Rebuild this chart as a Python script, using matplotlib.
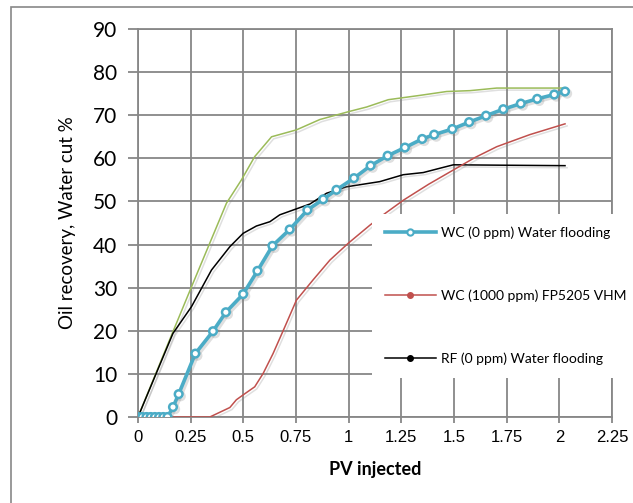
import numpy as np
import matplotlib
matplotlib.use('Agg')
import matplotlib.pyplot as plt
import matplotlib.patheffects as pe
from matplotlib.lines import Line2D
from matplotlib.patches import Rectangle

plt.rcParams['font.family'] = ['Lato', 'DejaVu Sans']

# WC (0 ppm) Water flooding - blue with markers
wc0_x = [0, 0.02, 0.04, 0.06, 0.08, 0.10, 0.12, 0.14, 0.166, 0.193, 0.272, 0.356, 0.417, 0.499,
         0.567, 0.638, 0.72, 0.804, 0.879, 0.942, 1.025, 1.104, 1.185, 1.267, 1.349,
         1.406, 1.492, 1.572, 1.652, 1.734, 1.817, 1.895, 1.976, 2.027]
wc0_y = [0, 0, 0, 0, 0, 0, 0, 0, 2.3, 5.3, 14.7, 19.9, 24.3, 28.5,
         33.9, 39.7, 43.5, 48.0, 50.5, 52.7, 55.4, 58.3, 60.6, 62.5, 64.5,
         65.5, 66.8, 68.4, 69.9, 71.4, 72.7, 73.8, 74.8, 75.5]

# WC (1000 ppm) FP5205 VHM - red
wc1000_x = [0, 0.10, 0.20, 0.341, 0.436, 0.467, 0.507, 0.554, 0.594, 0.641, 0.697, 0.752,
            0.831, 0.911, 0.998, 1.101, 1.164, 1.26, 1.38, 1.497, 1.60, 1.703, 1.86, 2.027]
wc1000_y = [0, 0, 0, 0, 2.2, 4.0, 5.4, 7.0, 10.1, 14.7, 20.9, 27.1,
            31.8, 36.4, 40.3, 44.5, 46.9, 50.3, 54.0, 57.3, 60.2, 62.7, 65.5, 68.0]

# RF (0 ppm) Water flooding - black
rf0_x = [0, 0.166, 0.254, 0.349, 0.436, 0.499, 0.562, 0.626, 0.673, 0.736, 0.816,
         0.895, 0.99, 1.148, 1.259, 1.354, 1.433, 1.497, 1.75, 2.027]
rf0_y = [0, 19.4, 25.6, 34.1, 39.5, 42.6, 44.3, 45.3, 46.9, 48.0, 49.4,
         51.9, 53.4, 54.6, 56.2, 56.7, 57.7, 58.5, 58.4, 58.3]

# RF (1000 ppm) - green, not in legend
rf1000_x = [0, 0.166, 0.254, 0.42, 0.491, 0.554, 0.634, 0.752, 0.863, 1.005, 1.085,
            1.188, 1.338, 1.465, 1.576, 1.703, 2.027]
rf1000_y = [0, 19.8, 30.2, 49.6, 55.0, 60.4, 65.0, 66.6, 69.0, 70.9, 71.9,
            73.6, 74.6, 75.5, 75.7, 76.3, 76.3]

blue = '#4BACC6'
red = '#C0504D'
green = '#9BBB59'
grid_c = '#878787'

fig = plt.figure(figsize=(6.33, 5.03), dpi=100)
ax = fig.add_axes([138/633, 1 - 417/503, (612 - 138)/633, (417 - 29)/503])

shadow = [pe.SimpleLineShadow(offset=(1.5, -1.5), alpha=0.25, shadow_color='gray'), pe.Normal()]

ax.plot(rf1000_x, rf1000_y, color=green, lw=1.1, path_effects=shadow, zorder=3)
ax.plot(rf0_x, rf0_y, color='black', lw=1.1, path_effects=shadow, zorder=3)
ax.plot(wc1000_x, wc1000_y, color=red, lw=1.1, path_effects=shadow, zorder=3)
ax.plot(wc0_x, wc0_y, color=blue, lw=2.6, marker='o', ms=5.5, mfc='white', mec=blue, mew=1.8,
        path_effects=shadow, zorder=4)

ax.set_xlim(0, 2.25)
ax.set_ylim(0, 90)
ax.set_xticks(np.arange(0, 2.26, 0.25))
ax.set_xticklabels(['0', '0.25', '0.5', '0.75', '1', '1.25', '1.5', '1.75', '2', '2.25'])
ax.set_yticks(np.arange(0, 91, 10))

ax.grid(True, color=grid_c, lw=1.3)
ax.set_axisbelow(True)
for s in ax.spines.values():
    s.set_color(grid_c)
    s.set_linewidth(1.3)

ax.tick_params(axis='y', length=7, width=1.3, color=grid_c, labelsize=15, pad=8)
ax.tick_params(axis='x', length=4, width=1.3, color=grid_c, labelsize=12, pad=5)
for lab in ax.get_xticklabels():
    lab.set_family(['Liberation Sans', 'DejaVu Sans'])

ax.set_xlabel('PV injected', fontsize=13, fontweight='bold', labelpad=12)
ax.set_ylabel('Oil recovery, Water cut %', fontsize=13.5, labelpad=12)

handles = [
    Line2D([], [], color=blue, lw=2.6, marker='o', ms=4.5, mfc='white', mec=blue, mew=1.5),
    Line2D([], [], color=red, lw=1.1, marker='o', ms=4, mfc=red, mec=red),
    Line2D([], [], color='black', lw=1.1, marker='o', ms=4, mfc='black', mec='black'),
]
labels = ['WC (0 ppm) Water flooding', 'WC (1000 ppm) FP5205 VHM', 'RF (0 ppm) Water flooding']
leg = fig.legend(handles, labels, loc='center left', bbox_to_anchor=(372/633, 1 - 295.7/503),
                 frameon=True, fancybox=False, edgecolor='none', facecolor='white', framealpha=1,
                 fontsize=10, labelspacing=3.65, handlelength=3.7, handletextpad=0.4,
                 borderpad=0.9, borderaxespad=0)

# outer chart border
fig.add_artist(Rectangle((11/633, -0.1), 1.0, 1 - 7/503 + 0.1, transform=fig.transFigure,
                         fill=False, edgecolor=grid_c, lw=1.2))

fig.savefig('out.png', dpi=100)
